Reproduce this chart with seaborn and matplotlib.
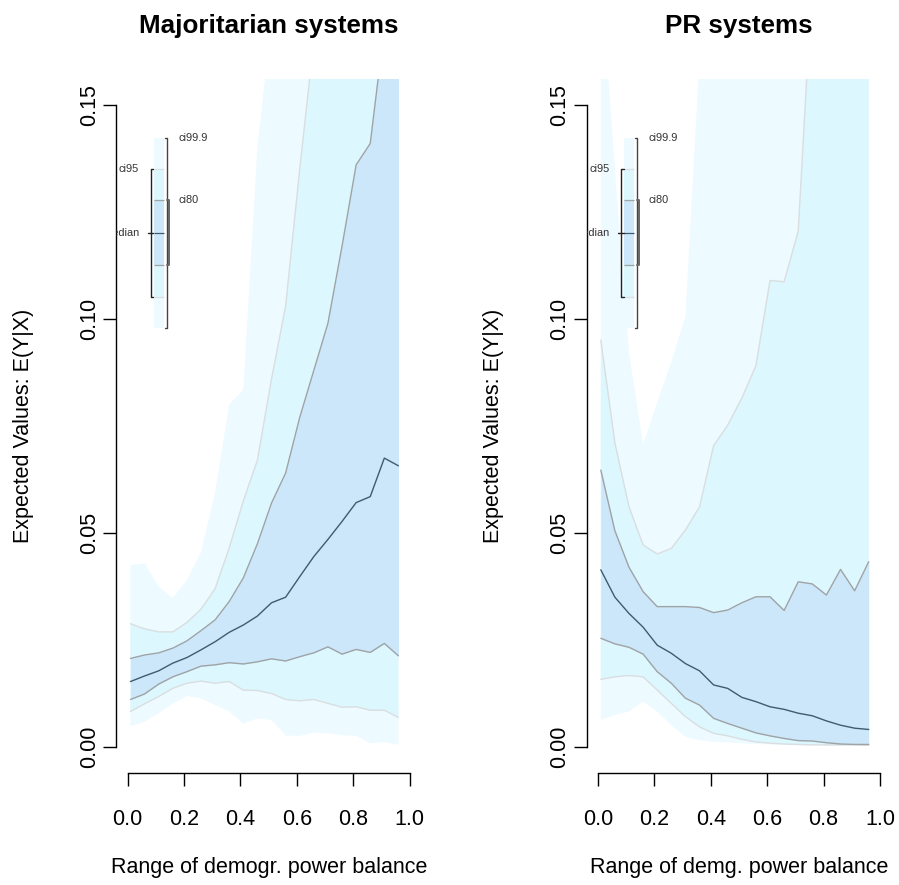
import matplotlib
matplotlib.use("Agg")
import matplotlib.pyplot as plt
import pandas as pd
import seaborn as sns

# Simulated expected values over the range of the power-balance variable
x_vals = [0.01, 0.06, 0.11, 0.16, 0.21, 0.26, 0.31, 0.36, 0.41, 0.46,
          0.51, 0.56, 0.61, 0.66, 0.71, 0.76, 0.81, 0.86, 0.91, 0.96]

# Majoritarian systems
maj_median = [0.0153, 0.0166, 0.0178, 0.0196, 0.0209, 0.0227, 0.0246, 0.0268, 0.0285, 0.0306,
              0.0337, 0.0350, 0.0398, 0.0445, 0.0485, 0.0527, 0.0571, 0.0585, 0.0675, 0.0657]
maj_ci80_lo = [0.0111, 0.0124, 0.0147, 0.0164, 0.0176, 0.0189, 0.0192, 0.0197, 0.0194, 0.0199,
               0.0206, 0.0201, 0.0211, 0.0220, 0.0234, 0.0217, 0.0228, 0.0221, 0.0242, 0.0213]
maj_ci80_hi = [0.0207, 0.0215, 0.0220, 0.0231, 0.0248, 0.0272, 0.0297, 0.0340, 0.0395, 0.0475,
               0.0570, 0.0640, 0.0770, 0.0880, 0.0990, 0.1170, 0.1360, 0.1410, 0.1680, 0.1900]
maj_ci95_lo = [0.0083, 0.0101, 0.0118, 0.0137, 0.0149, 0.0154, 0.0149, 0.0153, 0.0133, 0.0132,
               0.0125, 0.0111, 0.0108, 0.0111, 0.0102, 0.0093, 0.0094, 0.0086, 0.0086, 0.0069]
maj_ci95_hi = [0.0288, 0.0276, 0.0269, 0.0269, 0.0291, 0.0322, 0.0370, 0.0465, 0.0575, 0.0670,
               0.0860, 0.1030, 0.1350, 0.1650, 0.1900, 0.2100, 0.2300, 0.2500, 0.2700, 0.2900]
maj_ci999_lo = [0.0049, 0.0059, 0.0079, 0.0102, 0.0119, 0.0114, 0.0098, 0.0083, 0.0055, 0.0067,
                0.0063, 0.0027, 0.0026, 0.0034, 0.0032, 0.0028, 0.0026, 0.0009, 0.0012, 0.0005]
maj_ci999_hi = [0.0425, 0.0429, 0.0375, 0.0348, 0.0390, 0.0455, 0.0595, 0.0800, 0.0835, 0.1400,
                0.1700, 0.2000, 0.2200, 0.2400, 0.2600, 0.2800, 0.3000, 0.3200, 0.3400, 0.3600]

# PR systems
pr_median = [0.0414, 0.0350, 0.0312, 0.0280, 0.0238, 0.0219, 0.0195, 0.0178, 0.0145, 0.0137,
             0.0116, 0.0106, 0.0094, 0.0088, 0.0079, 0.0073, 0.0061, 0.0051, 0.0044, 0.0041]
pr_ci80_lo = [0.0254, 0.0241, 0.0233, 0.0217, 0.0176, 0.0149, 0.0114, 0.0098, 0.0067, 0.0055,
              0.0044, 0.0033, 0.0026, 0.0020, 0.0015, 0.0014, 0.0010, 0.0007, 0.0006, 0.0006]
pr_ci80_hi = [0.0647, 0.0505, 0.0420, 0.0363, 0.0328, 0.0328, 0.0328, 0.0326, 0.0314, 0.0320,
              0.0337, 0.0351, 0.0351, 0.0319, 0.0386, 0.0381, 0.0355, 0.0415, 0.0365, 0.0433]
pr_ci95_lo = [0.0158, 0.0164, 0.0167, 0.0164, 0.0133, 0.0102, 0.0071, 0.0047, 0.0032, 0.0026,
              0.0018, 0.0012, 0.0009, 0.0007, 0.0006, 0.0005, 0.0005, 0.0005, 0.0005, 0.0004]
pr_ci95_hi = [0.0951, 0.0710, 0.0561, 0.0472, 0.0451, 0.0464, 0.0507, 0.0561, 0.0704, 0.0752,
              0.0815, 0.0891, 0.1090, 0.1087, 0.1205, 0.1800, 0.2100, 0.2400, 0.2700, 0.3000]
pr_ci999_lo = [0.0063, 0.0075, 0.0083, 0.0106, 0.0083, 0.0051, 0.0024, 0.0016, 0.0012, 0.0011,
               0.0009, 0.0007, 0.0006, 0.0005, 0.0004, 0.0004, 0.0003, 0.0003, 0.0003, 0.0003]
pr_ci999_hi = [0.1800, 0.1350, 0.0920, 0.0706, 0.0804, 0.0900, 0.1005, 0.1610, 0.2000, 0.2200,
               0.2400, 0.2600, 0.2800, 0.3000, 0.3200, 0.3400, 0.3600, 0.3800, 0.4000, 0.4200]

titles = ["Majoritarian systems", "PR systems"]
xlabels = ["Range of demogr. power balance", "Range of demg. power balance"]
ylabel = "Expected Values: E(Y|X)"
y_ticks = [0.00, 0.05, 0.10, 0.15]
y_ticklabels = ["0.00", "0.05", "0.10", "0.15"]
x_ticks = [0.0, 0.2, 0.4, 0.6, 0.8, 1.0]
x_ticklabels = ["0.0", "0.2", "0.4", "0.6", "0.8", "1.0"]

# Colours of the nested interval bands and their boundary lines
C999 = "#edfaff"
C95 = "#ddf7fe"
C80 = "#cbe7f9"
L_MED = "#3f5b70"
L80 = "#9ea3a6"
L95 = "#d9dee0"
LEG = "#333333"

sns.set_style("white")
plt.rcParams["font.family"] = ["Liberation Sans", "DejaVu Sans"]
plt.rcParams["text.color"] = "black"
plt.rcParams["axes.labelcolor"] = "black"
plt.rcParams["xtick.color"] = "black"
plt.rcParams["ytick.color"] = "black"

W, H = 899, 885
fig = plt.figure(figsize=(W / 100, H / 100), dpi=100)
ax_w = 304.6 / W
ax_h = 693.4 / H
ax_b = 1 - 772.7 / H
axes = [fig.add_axes([116.4 / W, ax_b, ax_w, ax_h]),
        fig.add_axes([586.7 / W, ax_b, ax_w, ax_h])]


def draw_panel(ax, title, xlabel, med, lo80, hi80, lo95, hi95, lo999, hi999):
    ax.fill_between(x_vals, lo999, hi999, color=C999, lw=0, zorder=1)
    ax.fill_between(x_vals, lo95, hi95, color=C95, lw=0, zorder=2)
    ax.fill_between(x_vals, lo80, hi80, color=C80, lw=0, zorder=3)

    df = pd.DataFrame({"x": x_vals, "median": med, "lo80": lo80, "hi80": hi80,
                       "lo95": lo95, "hi95": hi95})
    for col, colour, z in [("lo95", L95, 4), ("hi95", L95, 4),
                           ("lo80", L80, 5), ("hi80", L80, 5),
                           ("median", L_MED, 6)]:
        sns.lineplot(data=df, x="x", y=col, color=colour, linewidth=1.0,
                     estimator=None, sort=False, ax=ax, zorder=z)

    # Interval legend drawn inside the panel
    lx0, lx1 = 0.093, 0.129
    mid = 0.1201
    h999, h95, h80 = 0.0222, 0.0150, 0.0076
    ax.fill_between([lx0, lx1], mid - h999, mid + h999, color=C999, lw=0, zorder=7)
    ax.fill_between([lx0, lx1], mid - h95, mid + h95, color=C95, lw=0, zorder=7)
    ax.fill_between([lx0, lx1], mid - h80, mid + h80, color=C80, lw=0, zorder=7)
    ax.hlines([mid - h95, mid + h95], lx0, lx1, color=L95, lw=0.9, zorder=8)
    ax.hlines([mid - h80, mid + h80], lx0, lx1, color=L80, lw=0.9, zorder=8)
    ax.hlines(mid, lx0, lx1, color=L_MED, lw=0.9, zorder=8)

    # brackets
    bx999, bx80, bx95 = 0.138, 0.146, 0.0826
    ax.plot([bx999 - 0.006, bx999, bx999, bx999 - 0.006],
            [mid - h999, mid - h999, mid + h999, mid + h999], color="#444444", lw=1.0, zorder=8)
    ax.plot([bx80 - 0.006, bx80, bx80, bx80 - 0.006],
            [mid - h80, mid - h80, mid + h80, mid + h80], color="#666666", lw=1.4, zorder=8)
    ax.plot([bx95 + 0.008, bx95, bx95, bx95 + 0.008],
            [mid - h95, mid - h95, mid + h95, mid + h95], color="#222222", lw=1.0, zorder=8)
    ax.plot([0.071, 0.091], [mid, mid], color="#222222", lw=1.0, zorder=8)

    fs = 7.9
    ax.text(0.1795, mid + h999, "ci99.9", ha="left", va="center", fontsize=fs, color=LEG, zorder=9)
    ax.text(0.1795, mid + h80, "ci80", ha="left", va="center", fontsize=fs, color=LEG, zorder=9)
    ax.text(0.041, mid + h95, "ci95", ha="right", va="center", fontsize=fs, color=LEG, zorder=9)
    ax.text(0.041, mid, "median", ha="right", va="center", fontsize=fs, color=LEG,
            zorder=9, clip_on=True)

    ax.set_xlim(-0.04, 1.04)
    ax.set_ylim(-0.006, 0.156)
    ax.set_xticks(x_ticks)
    ax.set_xticklabels(x_ticklabels)
    ax.set_yticks(y_ticks)
    ax.set_yticklabels(y_ticklabels, rotation=90, va="center")

    for side in ["top", "right"]:
        ax.spines[side].set_visible(False)
    for side in ["left", "bottom"]:
        ax.spines[side].set_color("black")
        ax.spines[side].set_linewidth(1.0)
    ax.spines["left"].set_bounds(0, 0.15)
    ax.spines["bottom"].set_bounds(0, 1)

    ax.tick_params(axis="both", direction="out", length=9.6, width=1.0, color="black",
                   labelsize=15.5, labelcolor="black")
    ax.tick_params(axis="x", pad=16.5, bottom=True)
    ax.tick_params(axis="y", pad=2.0, left=True)

    ax.set_title(title, fontsize=18.7, fontweight="bold", pad=33, color="black")
    ax.set_xlabel(xlabel, fontsize=15.5, color="black")
    ax.xaxis.label.set_va("baseline")
    ax.xaxis.set_label_coords(0.5, (772.7 - 873.3) / 693.4)
    ax.set_ylabel(ylabel, fontsize=15.5, color="black")
    ax.yaxis.label.set_va("center")
    ax.yaxis.set_label_coords((23.5 - 116.4) / 304.6, 0.5)
    ax.set_facecolor("white")


draw_panel(axes[0], titles[0], xlabels[0], maj_median, maj_ci80_lo, maj_ci80_hi,
           maj_ci95_lo, maj_ci95_hi, maj_ci999_lo, maj_ci999_hi)
draw_panel(axes[1], titles[1], xlabels[1], pr_median, pr_ci80_lo, pr_ci80_hi,
           pr_ci95_lo, pr_ci95_hi, pr_ci999_lo, pr_ci999_hi)

fig.savefig("out.png", dpi=100, facecolor="white")
